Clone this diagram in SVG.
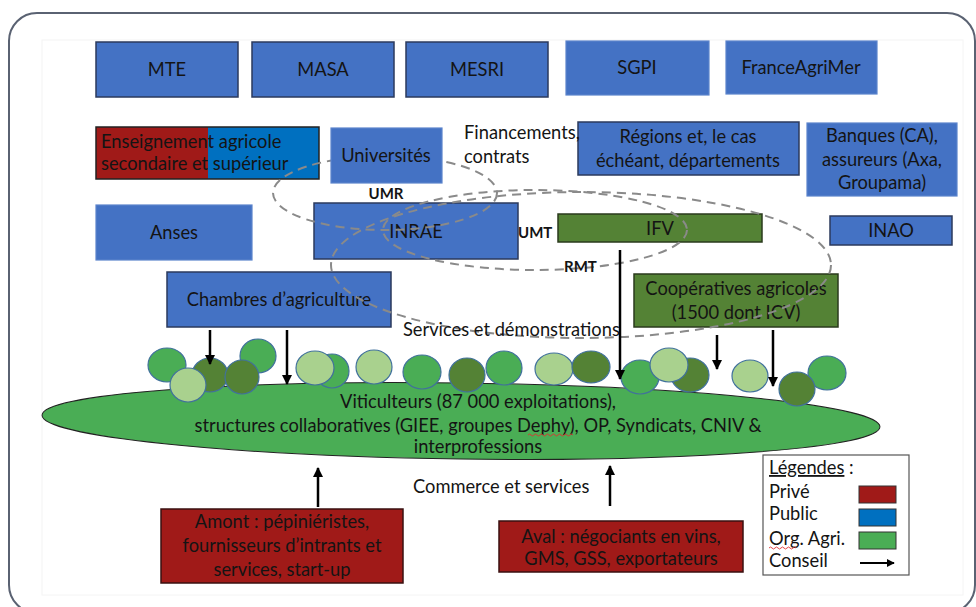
<svg xmlns="http://www.w3.org/2000/svg" width="976" height="607" viewBox="0 0 976 607">
<defs>
<style>
text{font-family:Lato,"Liberation Sans",sans-serif;font-size:18.3px;fill:#141414}
.c{text-anchor:middle}
.b{font-weight:bold;font-size:15px}
.blue{fill:#4472c4;stroke:#2b3a5c;stroke-width:1.5}
.bluel{fill:#4472c4;stroke:#5b84cc;stroke-width:1.2}
.red{fill:#a01a18;stroke:#3a1010;stroke-width:1.5}
.grn{fill:#548235;stroke:#2a3a1c;stroke-width:1.5}
.dash{fill:none;stroke:#8a8a8a;stroke-width:2;stroke-dasharray:9 6}
.m{fill:#4aad55;stroke:#41719c;stroke-width:1.2}
.d{fill:#548235;stroke:#41719c;stroke-width:1.2}
.l{fill:#a9d18e;stroke:#41719c;stroke-width:1.2}
.arr{stroke:#000;stroke-width:2.5;fill:none;marker-end:url(#ah)}
.wave{fill:none;stroke:#e03030;stroke-width:0.9}
</style>
<marker id="ah" viewBox="0 0 10 10" refX="9" refY="5" markerWidth="4" markerHeight="4" orient="auto">
<path d="M0,0 L10,5 L0,10 z" fill="#000"/>
</marker>
</defs>
<rect x="0" y="0" width="976" height="607" fill="#fff"/>
<rect x="9" y="13" width="966" height="600" rx="28" fill="none" stroke="#5a6272" stroke-width="2"/>
<rect x="42" y="40" width="921" height="555" fill="none" stroke="#f4f4f4" stroke-width="1"/>

<g id="n-mte"><rect class="blue" x="96" y="42" width="142" height="55"/><text class="c" x="167" y="76">MTE</text></g>
<g id="n-masa"><rect class="blue" x="252" y="42" width="142" height="55"/><text class="c" x="323" y="76">MASA</text></g>
<g id="n-mesri"><rect class="blue" x="406" y="42" width="142" height="55"/><text class="c" x="477" y="76">MESRI</text></g>
<g id="n-sgpi"><rect class="bluel" x="566" y="41" width="143" height="54"/><text class="c" x="637" y="74">SGPI</text></g>
<g id="n-fam"><rect class="bluel" x="726" y="41" width="151" height="53"/><text class="c" x="801" y="74">FranceAgriMer</text></g>

<g id="n-enseignement">
<rect x="96" y="127" width="112" height="52" fill="#a01a18"/>
<rect x="208" y="127" width="111" height="52" fill="#0070c0"/>
<rect x="96" y="127" width="223" height="52" fill="none" stroke="#222" stroke-width="1.5"/>
<text x="101" y="148">Enseignement agricole</text>
<text x="101" y="170">secondaire et supérieur</text>
</g>
<g id="n-regions"><rect class="blue" x="578" y="122" width="221" height="53"/><text class="c" x="688" y="143">Régions et, le cas</text><text class="c" x="688" y="167">échéant, départements</text></g>
<g id="n-banques"><rect class="bluel" x="807" y="123" width="150" height="73"/><text class="c" x="882" y="142">Banques (CA),</text><text class="c" x="882" y="166">assureurs (Axa,</text><text class="c" x="882" y="189">Groupama)</text></g>
<g id="n-anses"><rect class="bluel" x="96" y="205" width="156" height="55"/><text class="c" x="174" y="239">Anses</text></g>
<g id="n-inrae"><rect class="blue" x="314" y="203" width="204" height="56"/><text class="c" x="416" y="238">INRAE</text></g>
<g id="n-ifv"><rect class="grn" x="558" y="214" width="204" height="28"/><text class="c" x="660" y="235">IFV</text></g>
<g id="n-inao"><rect class="blue" x="830" y="216" width="122" height="29"/><text class="c" x="891" y="237">INAO</text></g>
<g id="n-chambres"><rect class="blue" x="167" y="272" width="224" height="55"/><text class="c" x="279" y="306">Chambres d’agriculture</text></g>
<g id="n-coop"><rect class="grn" x="634" y="274" width="204" height="53"/><text class="c" x="736" y="295">Coopératives agricoles</text><text class="c" x="736" y="319">(1500 dont ICV)</text></g>

<g id="relations">
<ellipse class="dash" cx="385" cy="193" rx="112" ry="37"/>
<ellipse class="dash" cx="535" cy="230" rx="152" ry="40"/>
<ellipse class="dash" cx="581" cy="265" rx="250" ry="73"/>
</g>

<g id="n-universites"><rect class="bluel" x="331" y="128" width="111" height="55"/><text class="c" x="386" y="162">Universités</text></g>

<g id="labels">
<text x="464" y="139">Financements,</text>
<text x="464" y="163">contrats</text>
<text class="b c" x="386" y="199">UMR</text>
<text class="b" x="518" y="238">UMT</text>
<text class="b" x="564" y="272">RMT</text>
<text x="403" y="336">Services et démonstrations</text>
<text x="413" y="493">Commerce et services</text>
</g>

<g id="n-viticulteurs">
<ellipse cx="461" cy="421" rx="419" ry="38" fill="#4aad55" stroke="#222" stroke-width="1" transform="rotate(0.8 461 421)"/>
<text class="c" x="478" y="408">Viticulteurs (87 000 exploitations),</text>
<text class="c" x="478" y="432">structures collaboratives (GIEE, groupes Dephy), OP, Syndicats, CNIV &amp;</text>
<text class="c" x="478" y="453">interprofessions</text>
<path class="wave" d="M528,435 q1.5,-2 3,0 t3,0 t3,0 t3,0 t3,0 t3,0 t3,0 t3,0 t3,0 t3,0 t3,0 t3,0 t3,0 t3,0 t3,0"/>
</g>

<g id="farms">
<ellipse class="m" cx="167" cy="365" rx="19" ry="17"/>
<ellipse class="m" cx="258" cy="356" rx="18" ry="17"/>
<ellipse class="d" cx="210" cy="375" rx="18" ry="17"/>
<ellipse class="d" cx="242" cy="377" rx="17" ry="17"/>
<ellipse class="l" cx="188" cy="385" rx="18" ry="17"/>
<ellipse class="m" cx="332" cy="371" rx="17" ry="17"/>
<ellipse class="l" cx="315" cy="368" rx="19" ry="17"/>
<ellipse class="l" cx="374" cy="367" rx="18" ry="17"/>
<ellipse class="m" cx="422" cy="372" rx="19" ry="17"/>
<ellipse class="d" cx="467" cy="375" rx="18" ry="17"/>
<ellipse class="m" cx="504" cy="368" rx="18" ry="17"/>
<ellipse class="l" cx="554" cy="369" rx="19" ry="16"/>
<ellipse class="d" cx="591" cy="367" rx="19" ry="16"/>
<ellipse class="m" cx="640" cy="377" rx="19" ry="17"/>
<ellipse class="d" cx="690" cy="375" rx="19" ry="17"/>
<ellipse class="l" cx="669" cy="365" rx="19" ry="17"/>
<ellipse class="l" cx="750" cy="376" rx="18" ry="16"/>
<ellipse class="m" cx="827" cy="373" rx="19" ry="17"/>
<ellipse class="d" cx="797" cy="389" rx="18" ry="17"/>
</g>

<g id="connectors">
<line class="arr" x1="210" y1="330" x2="210" y2="364"/>
<line class="arr" x1="287" y1="330" x2="287" y2="384"/>
<line class="arr" x1="620" y1="250" x2="620" y2="379"/>
<line class="arr" x1="717" y1="335" x2="717" y2="369"/>
<line class="arr" x1="773" y1="330" x2="773" y2="386"/>
<line class="arr" x1="318" y1="507" x2="318" y2="468"/>
<line class="arr" x1="610" y1="506" x2="610" y2="466"/>
</g>

<g id="n-amont"><rect class="red" x="161" y="509" width="242" height="74"/><text class="c" x="282" y="528">Amont : pépiniéristes,</text><text class="c" x="282" y="552">fournisseurs d’intrants et</text><text class="c" x="282" y="576">services, start-up</text></g>
<g id="n-aval"><rect class="red" x="499" y="521" width="244" height="51"/><text class="c" x="621" y="543">Aval : négociants en vins,</text><text class="c" x="621" y="565">GMS, GSS, exportateurs</text></g>

<g id="legend">
<rect x="763" y="455" width="146" height="120" fill="#fff" stroke="#555" stroke-width="1.2"/>
<text x="769" y="474"><tspan text-decoration="underline">Légendes</tspan> :</text>
<text x="769" y="498">Privé</text>
<rect x="859" y="486" width="37" height="17" fill="#a01a18" stroke="#333" stroke-width="1"/>
<text x="769" y="520">Public</text>
<rect x="859" y="509" width="37" height="17" fill="#0070c0" stroke="#333" stroke-width="1"/>
<text x="769" y="545">Org. Agri.</text>
<path class="wave" d="M769,548 q1.5,-2 3,0 t3,0 t3,0 t3,0 t3,0 t3,0 t3,0 t3,0 t3,0"/>
<rect x="859" y="532" width="37" height="17" fill="#4aad55" stroke="#333" stroke-width="1"/>
<text x="769" y="567">Conseil</text>
<line x1="860" y1="563" x2="894" y2="563" stroke="#000" stroke-width="2" marker-end="url(#ah)"/>
</g>
</svg>
